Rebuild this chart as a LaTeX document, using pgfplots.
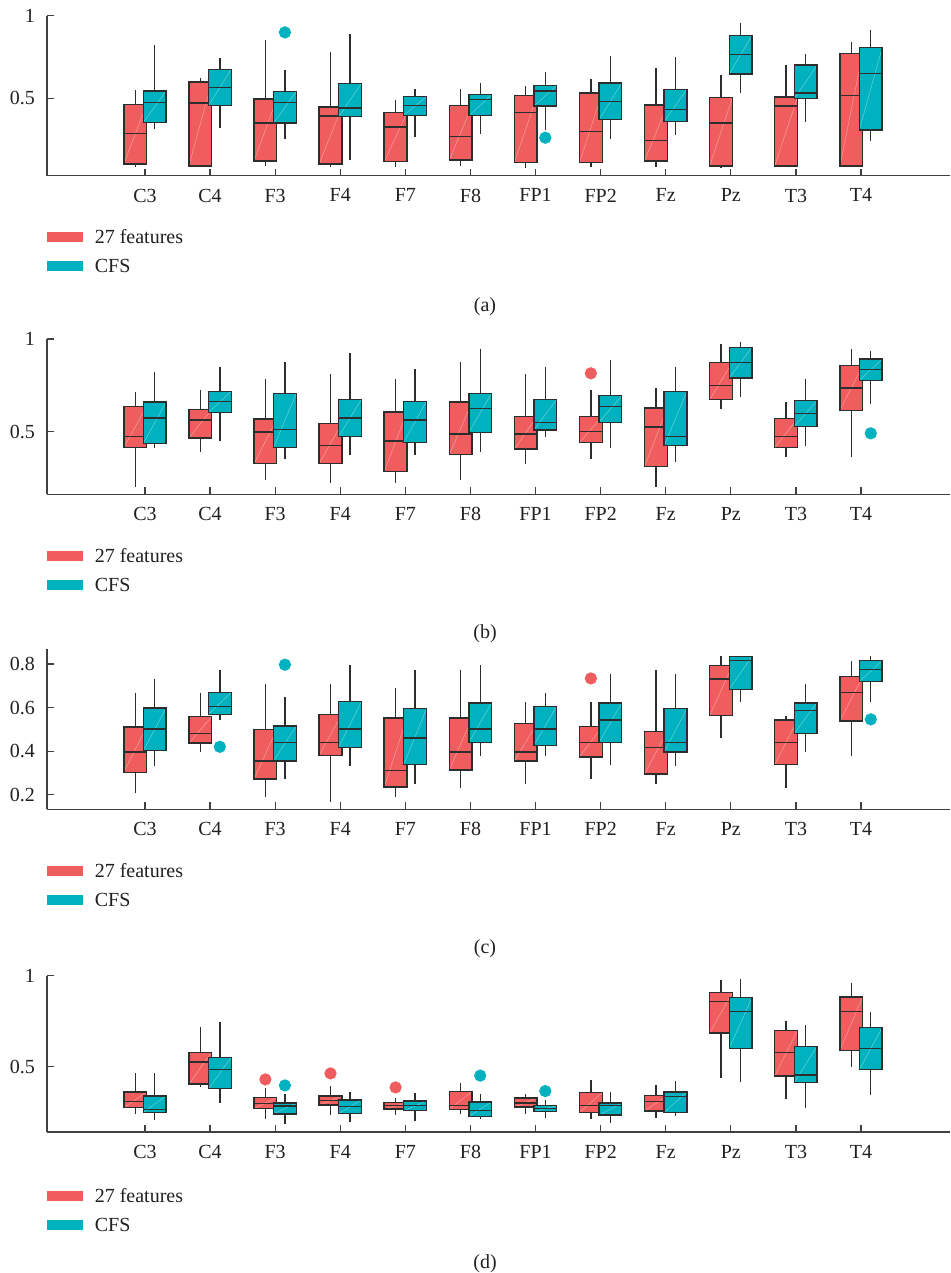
\documentclass[border=0pt]{standalone}
\usepackage{fontspec}
\setmainfont{Liberation Serif}
\usepackage{pgfplots}
\pgfplotsset{compat=1.18}
\usepgfplotslibrary{statistics}
\definecolor{cR}{RGB}{240,93,94}
\definecolor{cT}{RGB}{0,178,191}
\definecolor{edge}{RGB}{45,45,45}
\definecolor{axc}{RGB}{64,64,64}
\definecolor{txt}{RGB}{35,31,32}

\pgfplotsset{
  boxbase/.style={forget plot, draw=edge, line width=0.7pt, solid,
    boxplot/draw direction=y,
    boxplot/box extend=0.35, boxplot/whisker extend=0,
    mark=*, mark size=2.7pt,
    boxplot/every box/.append style={path picture={\draw[white, opacity=0.3, line width=0.3pt] (path picture bounding box.south west) -- (path picture bounding box.north east);}}},
  boxR/.style={boxbase, fill=cR, mark options={fill=cR, draw=cR}},
  boxT/.style={boxbase, fill=cT, mark options={fill=cT, draw=cT}},
  panel/.style={scale only axis, width=451.5pt, xmin=-0.505, xmax=13.367,
    axis x line*=bottom, axis y line*=left, tick align=inside,
    major tick length=3.5pt,
    xtick={1,2,3,4,5,6,7,8,9,10,11,12},
    xticklabels={C3,C4,F3,F4,F7,F8,FP1,FP2,Fz,Pz,T3,T4},
    axis line style={axc, line width=0.65pt},
    tick style={axc, line width=0.65pt},
    ticklabel style={font=\fontsize{10}{12}\selectfont, text=txt},
    /pgf/number format/assume math mode=true,
    xticklabel style={yshift=-3pt},
    yticklabel style={xshift=-2.5pt},
    legend cell align=left,
    legend style={at={(0,0)}, anchor=north west, yshift=-27.5pt, draw=none, fill=none,
      inner sep=0pt, outer sep=0pt, row sep=8pt, column sep=6pt,
      font=\fontsize{10}{12}\selectfont, text=txt,
      nodes={inner sep=0pt, text height=6.5pt, text depth=0pt}},
  },
}
\newcommand{\leg}{%
  \addlegendimage{legend image code/.code={\fill[cR] (0pt,-2.25pt) rectangle (17.5pt,2.25pt);}}
  \addlegendentry{27 features}
  \addlegendimage{legend image code/.code={\fill[cT] (0pt,-2.25pt) rectangle (17.5pt,2.25pt);}}
  \addlegendentry{CFS}}
\newcommand{\bR}[6]{\addplot[boxR, boxplot prepared={draw position=#1-0.15, lower whisker=#2, lower quartile=#3, median=#4, upper quartile=#5, upper whisker=#6}] coordinates {};}
\newcommand{\bT}[6]{\addplot[boxT, boxplot prepared={draw position=#1+0.15, lower whisker=#2, lower quartile=#3, median=#4, upper quartile=#5, upper whisker=#6}] coordinates {};}
\newcommand{\bRo}[7]{\addplot[boxR, boxplot prepared={draw position=#1-0.15, lower whisker=#2, lower quartile=#3, median=#4, upper quartile=#5, upper whisker=#6}] table[row sep=\\, y index=0] {v\\ #7\\};}
\newcommand{\bTo}[7]{\addplot[boxT, boxplot prepared={draw position=#1+0.15, lower whisker=#2, lower quartile=#3, median=#4, upper quartile=#5, upper whisker=#6}] table[row sep=\\, y index=0] {v\\ #7\\};}

\begin{document}
\begin{tikzpicture}
\useasboundingbox (0,0) rectangle (475pt,-636.5pt);

% (a)
\begin{axis}[panel, at={(23.5pt,-7.85pt)}, anchor=north west, height=80pt,
  ymin=0.031, ymax=1, ytick={0.5,1}]
\leg
\bR{1}{0.085}{0.103}{0.287}{0.463}{0.553} \bT{1}{0.311}{0.354}{0.473}{0.545}{0.822}
\bR{2}{0.081}{0.091}{0.471}{0.598}{0.624} \bT{2}{0.317}{0.455}{0.564}{0.675}{0.741}
\bR{3}{0.089}{0.121}{0.349}{0.495}{0.851} \bTo{3}{0.253}{0.349}{0.475}{0.541}{0.669}{0.899}
\bR{4}{0.081}{0.101}{0.392}{0.448}{0.780} \bT{4}{0.129}{0.388}{0.440}{0.590}{0.889}
\bR{5}{0.081}{0.117}{0.327}{0.412}{0.489} \bT{5}{0.263}{0.396}{0.457}{0.511}{0.556}
\bR{6}{0.089}{0.125}{0.267}{0.455}{0.556} \bT{6}{0.281}{0.394}{0.493}{0.521}{0.594}
\bR{7}{0.075}{0.111}{0.414}{0.517}{0.572} \bTo{7}{0.307}{0.453}{0.543}{0.576}{0.659}{0.261}
\bR{8}{0.085}{0.111}{0.297}{0.533}{0.618} \bT{8}{0.255}{0.370}{0.481}{0.592}{0.756}
\bR{9}{0.085}{0.121}{0.246}{0.459}{0.683} \bT{9}{0.279}{0.358}{0.432}{0.554}{0.747}
\bR{10}{0.075}{0.091}{0.349}{0.503}{0.638} \bT{10}{0.529}{0.646}{0.766}{0.881}{0.958}
\bR{11}{0.081}{0.091}{0.453}{0.507}{0.699} \bT{11}{0.356}{0.497}{0.533}{0.701}{0.770}
\bR{12}{0.085}{0.089}{0.515}{0.772}{0.838} \bT{12}{0.242}{0.309}{0.651}{0.806}{0.915}
\end{axis}

% (b)
\begin{axis}[panel, at={(23.5pt,-169.5pt)}, anchor=north west, height=77.65pt,
  ymin=0.162, ymax=1, ytick={0.5,1}]
\leg
\bR{1}{0.203}{0.414}{0.473}{0.637}{0.712} \bT{1}{0.414}{0.437}{0.574}{0.660}{0.824}
\bR{2}{0.388}{0.466}{0.563}{0.621}{0.725} \bT{2}{0.450}{0.603}{0.664}{0.718}{0.849}
\bR{3}{0.237}{0.327}{0.498}{0.568}{0.786} \bT{3}{0.351}{0.415}{0.513}{0.707}{0.874}
\bR{4}{0.225}{0.327}{0.424}{0.545}{0.813} \bT{4}{0.374}{0.473}{0.574}{0.674}{0.924}
\bR{5}{0.225}{0.284}{0.450}{0.606}{0.786} \bT{5}{0.376}{0.442}{0.563}{0.664}{0.836}
\bR{6}{0.237}{0.376}{0.487}{0.660}{0.874} \bT{6}{0.388}{0.496}{0.624}{0.707}{0.948}
\bR{7}{0.326}{0.406}{0.487}{0.583}{0.811} \bT{7}{0.473}{0.509}{0.550}{0.674}{0.847}
\bRo{8}{0.351}{0.441}{0.500}{0.583}{0.723}{0.815} \bT{8}{0.414}{0.550}{0.637}{0.694}{0.885}
\bR{9}{0.201}{0.313}{0.525}{0.628}{0.736} \bT{9}{0.338}{0.424}{0.473}{0.718}{0.847}
\bR{10}{0.624}{0.673}{0.750}{0.874}{0.973} \bT{10}{0.687}{0.790}{0.874}{0.955}{0.986}
\bR{11}{0.363}{0.415}{0.473}{0.570}{0.660} \bT{11}{0.424}{0.529}{0.599}{0.667}{0.784}
\bR{12}{0.363}{0.615}{0.736}{0.856}{0.948} \bTo{12}{0.651}{0.777}{0.836}{0.892}{0.933}{0.491}
\end{axis}

% (c)
\begin{axis}[panel, at={(23.5pt,-324.5pt)}, anchor=north west, height=80.15pt,
  ymin=0.133, ymax=0.869, ytick={0.2,0.4,0.6,0.8}]
\leg
\bR{1}{0.209}{0.303}{0.396}{0.511}{0.668} \bT{1}{0.333}{0.402}{0.502}{0.599}{0.730}
\bR{2}{0.397}{0.437}{0.480}{0.558}{0.668} \bTo{2}{0.544}{0.569}{0.606}{0.670}{0.771}{0.420}
\bR{3}{0.188}{0.272}{0.355}{0.500}{0.710} \bTo{3}{0.272}{0.355}{0.439}{0.515}{0.647}{0.797}
\bR{4}{0.168}{0.381}{0.439}{0.569}{0.710} \bT{4}{0.333}{0.417}{0.502}{0.627}{0.794}
\bR{5}{0.188}{0.235}{0.312}{0.552}{0.688} \bT{5}{0.249}{0.338}{0.460}{0.595}{0.771}
\bR{6}{0.231}{0.313}{0.396}{0.552}{0.771} \bT{6}{0.376}{0.439}{0.502}{0.622}{0.794}
\bR{7}{0.250}{0.355}{0.396}{0.528}{0.625} \bT{7}{0.376}{0.427}{0.502}{0.606}{0.667}
\bRo{8}{0.272}{0.374}{0.439}{0.512}{0.625}{0.734} \bT{8}{0.335}{0.439}{0.543}{0.622}{0.753}
\bR{9}{0.250}{0.296}{0.417}{0.491}{0.772} \bT{9}{0.333}{0.396}{0.439}{0.595}{0.753}
\bR{10}{0.460}{0.563}{0.731}{0.794}{0.837} \bT{10}{0.627}{0.684}{0.815}{0.835}{0.837}
\bR{11}{0.229}{0.339}{0.439}{0.543}{0.563} \bT{11}{0.397}{0.482}{0.586}{0.622}{0.710}
\bR{12}{0.376}{0.538}{0.668}{0.742}{0.814} \bTo{12}{0.627}{0.720}{0.774}{0.815}{0.837}{0.546}
\end{axis}

% (d)
\begin{axis}[panel, at={(23.5pt,-487.85pt)}, anchor=north west, height=78.15pt,
  ymin=0.141, ymax=1, ytick={0.5,1}, legend style={yshift=-1pt}]
\leg
\bR{1}{0.238}{0.275}{0.310}{0.361}{0.463} \bT{1}{0.205}{0.249}{0.266}{0.339}{0.467}
\bR{2}{0.390}{0.405}{0.526}{0.579}{0.718} \bT{2}{0.302}{0.379}{0.485}{0.551}{0.745}
\bRo{3}{0.214}{0.271}{0.297}{0.330}{0.383}{0.430} \bTo{3}{0.183}{0.240}{0.284}{0.300}{0.348}{0.397}
\bRo{4}{0.233}{0.289}{0.313}{0.339}{0.392}{0.463} \bT{4}{0.198}{0.242}{0.280}{0.317}{0.359}
\bRo{5}{0.236}{0.267}{0.288}{0.302}{0.328}{0.386} \bT{5}{0.201}{0.258}{0.288}{0.311}{0.353}
\bR{6}{0.242}{0.266}{0.288}{0.363}{0.408} \bTo{6}{0.212}{0.227}{0.258}{0.306}{0.352}{0.451}
\bR{7}{0.238}{0.278}{0.300}{0.328}{0.348} \bTo{7}{0.220}{0.253}{0.269}{0.286}{0.317}{0.366}
\bR{8}{0.212}{0.249}{0.288}{0.357}{0.425} \bT{8}{0.192}{0.234}{0.288}{0.300}{0.363}
\bR{9}{0.220}{0.256}{0.310}{0.341}{0.399} \bT{9}{0.229}{0.249}{0.335}{0.361}{0.421}
\bR{10}{0.436}{0.685}{0.859}{0.908}{0.976} \bT{10}{0.418}{0.601}{0.802}{0.879}{0.980}
\bR{11}{0.324}{0.449}{0.579}{0.700}{0.749} \bT{11}{0.275}{0.414}{0.454}{0.612}{0.727}
\bR{12}{0.496}{0.590}{0.802}{0.883}{0.962} \bT{12}{0.342}{0.485}{0.601}{0.714}{0.799}
\end{axis}

\begin{scope}[every node/.style={font=\fontsize{10}{12}\selectfont, text=txt, inner sep=0pt}]
\node at (242.5pt,-153.35pt) {(a)};
\node at (242.5pt,-316.85pt) {(b)};
\node at (242.5pt,-474.35pt) {(c)};
\node at (242.5pt,-631.85pt) {(d)};
\end{scope}
\end{tikzpicture}
\end{document}
